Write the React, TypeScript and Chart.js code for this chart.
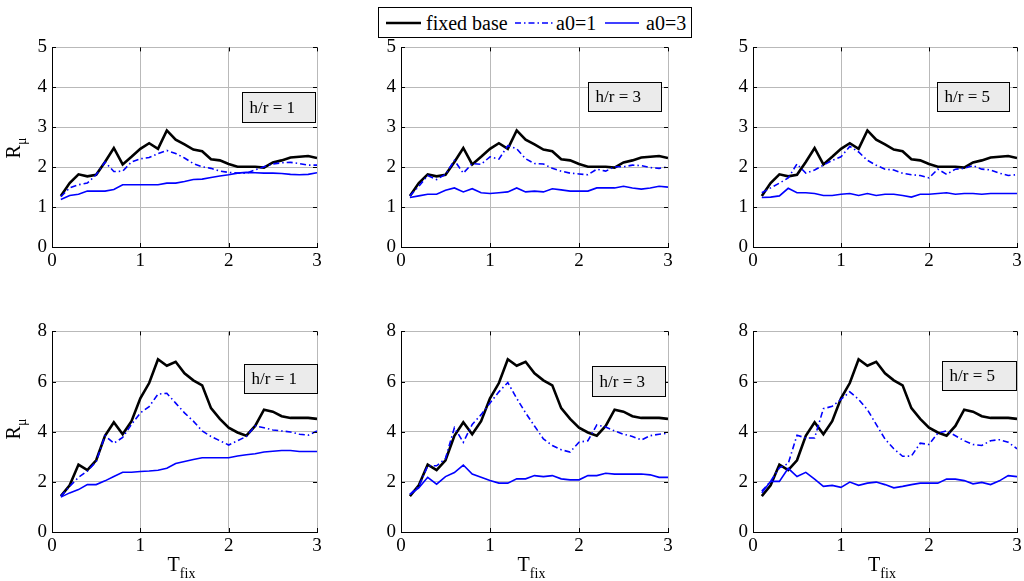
import React, { useEffect, useRef } from "react";
import { Chart, registerables } from "chart.js";

Chart.register(...registerables);

// ---------------- data ----------------
const periods = [0.1, 0.2, 0.3, 0.4, 0.5, 0.6, 0.7, 0.8, 0.9, 1.0, 1.1, 1.2, 1.3, 1.4, 1.5, 1.6, 1.7, 1.8, 1.9, 2.0, 2.1, 2.2, 2.3, 2.4, 2.5, 2.6, 2.7, 2.8, 2.9, 3.0];

const seriesNames = ["fixed base", "a0=1", "a0=3"];
const panelLabels = ["h/r = 1", "h/r = 3", "h/r = 5"];
const xTickValues = [0, 1, 2, 3];
const yTicksTop = [0, 1, 2, 3, 4, 5];
const yTicksBottom = [0, 2, 4, 6, 8];

const fixedBaseTop = [1.28, 1.6, 1.82, 1.77, 1.81, 2.13, 2.48, 2.07, 2.26, 2.46, 2.6, 2.46, 2.92, 2.69, 2.57, 2.44, 2.4, 2.2, 2.17, 2.08, 2.01, 2.01, 2.01, 1.99, 2.12, 2.17, 2.24, 2.26, 2.28, 2.23];
const fixedBaseBottom = [1.43, 1.86, 2.69, 2.47, 2.86, 3.84, 4.38, 3.9, 4.42, 5.33, 5.94, 6.89, 6.63, 6.79, 6.33, 6.05, 5.85, 4.94, 4.51, 4.16, 3.97, 3.84, 4.23, 4.88, 4.8, 4.62, 4.55, 4.55, 4.55, 4.51];

const a01TopH1 = [1.26, 1.48, 1.56, 1.6, 1.81, 2.13, 1.89, 1.9, 2.13, 2.21, 2.24, 2.34, 2.42, 2.34, 2.23, 2.09, 2.01, 1.97, 1.9, 1.87, 1.85, 1.85, 1.93, 2.01, 2.08, 2.11, 2.12, 2.09, 2.05, 2.05];
const a03TopH1 = [1.19, 1.29, 1.32, 1.4, 1.4, 1.4, 1.44, 1.56, 1.56, 1.56, 1.56, 1.56, 1.6, 1.6, 1.64, 1.69, 1.7, 1.74, 1.78, 1.81, 1.85, 1.87, 1.86, 1.85, 1.85, 1.84, 1.82, 1.81, 1.82, 1.86];
const a01TopH3 = [1.28, 1.52, 1.79, 1.69, 1.82, 2.17, 1.85, 2.09, 2.07, 2.26, 2.2, 2.54, 2.46, 2.21, 2.09, 2.08, 1.97, 1.9, 1.85, 1.83, 1.81, 1.95, 1.9, 2.01, 2.01, 2.05, 2.04, 1.99, 1.97, 2.01];
const a03TopH3 = [1.24, 1.28, 1.32, 1.32, 1.42, 1.48, 1.38, 1.46, 1.36, 1.34, 1.36, 1.38, 1.48, 1.38, 1.4, 1.38, 1.46, 1.43, 1.4, 1.4, 1.4, 1.48, 1.48, 1.48, 1.52, 1.48, 1.45, 1.48, 1.52, 1.5];
const a01TopH5 = [1.36, 1.48, 1.6, 1.73, 2.08, 1.85, 1.93, 2.05, 2.17, 2.26, 2.52, 2.38, 2.17, 2.05, 1.95, 1.93, 1.85, 1.81, 1.79, 1.73, 1.95, 1.82, 1.95, 1.97, 2.04, 1.95, 1.93, 1.85, 1.79, 1.81];
const a03TopH5 = [1.24, 1.25, 1.28, 1.47, 1.36, 1.36, 1.34, 1.29, 1.29, 1.32, 1.34, 1.29, 1.34, 1.29, 1.32, 1.32, 1.29, 1.25, 1.32, 1.32, 1.34, 1.36, 1.32, 1.34, 1.34, 1.32, 1.34, 1.34, 1.34, 1.34];

const a01BotH1 = [1.43, 1.82, 2.18, 2.43, 2.8, 3.84, 3.54, 3.77, 4.29, 4.75, 5.0, 5.5, 5.53, 5.14, 4.75, 4.42, 4.03, 3.81, 3.64, 3.47, 3.64, 3.81, 4.23, 4.16, 4.07, 4.03, 3.99, 3.9, 3.86, 4.03];
const a03BotH1 = [1.39, 1.56, 1.69, 1.89, 1.89, 2.04, 2.21, 2.38, 2.38, 2.41, 2.43, 2.46, 2.54, 2.73, 2.81, 2.89, 2.96, 2.96, 2.96, 2.96, 3.03, 3.08, 3.12, 3.19, 3.22, 3.25, 3.25, 3.21, 3.21, 3.21];
const a01BotH3 = [1.5, 1.82, 2.64, 2.64, 2.93, 4.16, 3.58, 4.29, 4.68, 5.14, 5.59, 5.96, 5.33, 4.75, 4.23, 3.71, 3.45, 3.28, 3.19, 3.58, 3.64, 4.27, 4.19, 4.03, 3.9, 3.81, 3.67, 3.84, 3.9, 3.94];
const a03BotH3 = [1.5, 1.76, 2.18, 1.91, 2.21, 2.37, 2.67, 2.31, 2.18, 2.05, 1.95, 1.95, 2.12, 2.12, 2.25, 2.21, 2.25, 2.12, 2.08, 2.08, 2.25, 2.25, 2.34, 2.31, 2.31, 2.31, 2.31, 2.28, 2.18, 2.18];
const a01BotH5 = [1.63, 2.02, 2.56, 2.73, 3.86, 3.75, 3.75, 4.92, 5.01, 5.29, 5.59, 5.29, 4.88, 4.29, 3.71, 3.32, 3.02, 3.03, 3.54, 3.49, 3.94, 4.03, 3.84, 3.64, 3.49, 3.45, 3.64, 3.68, 3.58, 3.32];
const a03BotH5 = [1.56, 2.02, 2.02, 2.54, 2.21, 2.38, 2.11, 1.82, 1.86, 1.78, 1.99, 1.86, 1.95, 1.99, 1.89, 1.76, 1.82, 1.89, 1.95, 1.95, 1.95, 2.11, 2.11, 2.05, 1.92, 1.98, 1.89, 2.04, 2.25, 2.21];

// ---------------- layout / style ----------------
const FONT = '"Liberation Serif", "Times New Roman", serif';
const GRID = "#b9b9b9";
const BLUE = "#0000ff";
const PAD_L = 45;
const PAD_T = 12;
const PAD_R = 14;
const PAD_B = 32;

const colLeft = [52, 401, 753];
const colWidth = [265, 267, 264];
const rowTop = [43, 327];
const rowHeight = [204, 205];

// annotation boxes, in data coordinates [x1, x2, yTop, yBottom]
const boxes = [
  [[2.15, 2.977, 3.873, 3.137], [2.1, 2.92, 4.14, 3.41], [2.09, 2.91, 4.14, 3.41]],
  [[2.17, 3.0, 6.71, 5.54], [2.15, 2.97, 6.63, 5.42], [2.15, 2.99, 6.83, 5.66]],
];

const panelSeries = [
  [
    [fixedBaseTop, a01TopH1, a03TopH1],
    [fixedBaseTop, a01TopH3, a03TopH3],
    [fixedBaseTop, a01TopH5, a03TopH5],
  ],
  [
    [fixedBaseBottom, a01BotH1, a03BotH1],
    [fixedBaseBottom, a01BotH3, a03BotH3],
    [fixedBaseBottom, a01BotH5, a03BotH5],
  ],
];

const inwardTicks = {
  id: "inwardTicks",
  afterDraw(chart: any) {
    const { ctx, chartArea: a, scales } = chart;
    const len = 4;
    ctx.save();
    ctx.strokeStyle = "#000";
    ctx.lineWidth = 1;
    ctx.beginPath();
    scales.x.ticks.forEach((t: any) => {
      const px = Math.round(scales.x.getPixelForValue(t.value)) + 0.5;
      ctx.moveTo(px, a.bottom);
      ctx.lineTo(px, a.bottom - len);
      ctx.moveTo(px, a.top);
      ctx.lineTo(px, a.top + len);
    });
    scales.y.ticks.forEach((t: any) => {
      const py = Math.round(scales.y.getPixelForValue(t.value)) + 0.5;
      ctx.moveTo(a.left, py);
      ctx.lineTo(a.left + len, py);
      ctx.moveTo(a.right, py);
      ctx.lineTo(a.right - len, py);
    });
    ctx.stroke();
    ctx.restore();
  },
};

const hrBox = {
  id: "hrBox",
  afterDraw(chart: any, _args: any, opts: any) {
    if (!opts || !opts.box) return;
    const { ctx, scales } = chart;
    const [x1, x2, yt, yb] = opts.box;
    const l = Math.round(scales.x.getPixelForValue(x1)) + 0.5;
    const r = Math.round(scales.x.getPixelForValue(x2)) + 0.5;
    const t = Math.round(scales.y.getPixelForValue(yt)) + 0.5;
    const b = Math.round(scales.y.getPixelForValue(yb)) + 0.5;
    ctx.save();
    ctx.fillStyle = "#ebebeb";
    ctx.fillRect(l, t, r - l, b - t);
    ctx.strokeStyle = "#000";
    ctx.lineWidth = 1;
    ctx.strokeRect(l, t, r - l, b - t);
    ctx.fillStyle = "#000";
    ctx.font = `17px ${FONT}`;
    ctx.textAlign = "left";
    ctx.textBaseline = "middle";
    ctx.fillText(opts.text, l + 7, (t + b) / 2 + 1);
    ctx.restore();
  },
};

type PanelProps = {
  left: number;
  top: number;
  width: number;
  height: number;
  yMax: number;
  series: number[][];
  text: string;
  box: number[];
};

function Panel(p: PanelProps) {
  const ref = useRef<HTMLCanvasElement>(null);
  const cw = p.width + PAD_L + PAD_R;
  const ch = p.height + PAD_T + PAD_B;
  useEffect(() => {
    const toPts = (vals: number[]) => periods.map((x, i) => ({ x, y: vals[i] }));
    const tickFont = { family: FONT, size: 19 };
    const chart = new Chart(ref.current as HTMLCanvasElement, {
      type: "line",
      data: {
        datasets: [
          {
            label: seriesNames[0],
            data: toPts(p.series[0]),
            borderColor: "#000",
            borderWidth: 2.6,
            pointRadius: 0,
            tension: 0,
            order: 3,
          },
          {
            label: seriesNames[1],
            data: toPts(p.series[1]),
            borderColor: BLUE,
            borderWidth: 1.6,
            borderDash: [6, 3, 1.5, 3],
            pointRadius: 0,
            tension: 0,
            order: 2,
          },
          {
            label: seriesNames[2],
            data: toPts(p.series[2]),
            borderColor: BLUE,
            borderWidth: 1.6,
            pointRadius: 0,
            tension: 0,
            order: 1,
          },
        ],
      },
      options: {
        animation: false,
        responsive: false,
        maintainAspectRatio: false,
        layout: { padding: { left: 0, top: PAD_T, right: PAD_R, bottom: 0 } },
        plugins: {
          legend: { display: false },
          tooltip: { enabled: false },
          hrBox: { box: p.box, text: p.text },
        } as any,
        scales: {
          x: {
            type: "linear",
            min: 0,
            max: 3,
            afterBuildTicks: (s: any) => {
              s.ticks = xTickValues.map((v) => ({ value: v }));
            },
            ticks: { font: tickFont, color: "#000", padding: 3, maxRotation: 0 },
            grid: { color: GRID, drawTicks: false, lineWidth: 1 },
            border: { color: "#000", width: 1 },
            afterFit: (s: any) => {
              s.height = PAD_B;
            },
          },
          y: {
            type: "linear",
            min: 0,
            max: p.yMax,
            afterBuildTicks: (s: any) => {
              s.ticks = (p.yMax === 5 ? yTicksTop : yTicksBottom).map((v) => ({ value: v }));
            },
            ticks: { font: tickFont, color: "#000", padding: 5 },
            grid: { color: GRID, drawTicks: false, lineWidth: 1 },
            border: { color: "#000", width: 1 },
            afterFit: (s: any) => {
              s.width = PAD_L;
            },
          },
        },
      } as any,
      plugins: [inwardTicks, hrBox],
    });
    return () => chart.destroy();
  }, []);
  return (
    <canvas
      ref={ref}
      width={cw}
      height={ch}
      style={{ position: "absolute", left: p.left - PAD_L, top: p.top - PAD_T, width: cw, height: ch }}
    />
  );
}

function YTitle({ cy }: { cy: number }) {
  return (
    <div
      style={{
        position: "absolute",
        left: 14,
        top: cy,
        transform: "translate(-50%, -50%) rotate(-90deg)",
        fontFamily: FONT,
        fontSize: 20,
        lineHeight: "20px",
        whiteSpace: "nowrap",
        color: "#000",
      }}
    >
      R<span style={{ fontSize: 14, position: "relative", top: 6 }}>μ</span>
    </div>
  );
}

function XTitle({ cx }: { cx: number }) {
  return (
    <div
      style={{
        position: "absolute",
        left: cx,
        top: 554,
        transform: "translateX(-50%)",
        fontFamily: FONT,
        fontSize: 20,
        lineHeight: "20px",
        whiteSpace: "nowrap",
        color: "#000",
      }}
    >
      T<span style={{ fontSize: 14, position: "relative", top: 7 }}>fix</span>
    </div>
  );
}

function Legend() {
  return (
    <svg
      width={316}
      height={33}
      style={{ position: "absolute", left: 377, top: 6, zIndex: 5 }}
    >
      <rect x={1.5} y={1.5} width={313} height={30} fill="#fff" stroke="#000" strokeWidth={1} />
      <line x1={9} y1={17} x2={44} y2={17} stroke="#000" strokeWidth={2.6} />
      <text x={49} y={24} fontFamily={FONT} fontSize={20} fill="#000">{seriesNames[0]}</text>
      <line x1={138} y1={17} x2={176} y2={17} stroke={BLUE} strokeWidth={1.6} strokeDasharray="6 3 1.5 3" />
      <text x={179} y={24} fontFamily={FONT} fontSize={20} fill="#000">{seriesNames[1]}</text>
      <line x1={228} y1={17} x2={262} y2={17} stroke={BLUE} strokeWidth={1.6} />
      <text x={269} y={24} fontFamily={FONT} fontSize={20} fill="#000">{seriesNames[2]}</text>
    </svg>
  );
}

export default function App() {
  const panels: PanelProps[] = [];
  for (let r = 0; r < 2; r++) {
    for (let c = 0; c < 3; c++) {
      panels.push({
        left: colLeft[c],
        top: rowTop[r],
        width: colWidth[c],
        height: rowHeight[r],
        yMax: r === 0 ? 5 : 8,
        series: panelSeries[r][c],
        text: panelLabels[c],
        box: boxes[r][c],
      });
    }
  }
  return (
    <div style={{ position: "absolute", left: 0, top: 0, width: 1024, height: 581, background: "#fff", overflow: "hidden" }}>
      {panels.map((p, i) => (
        <Panel key={i} {...p} />
      ))}
      <YTitle cy={148} />
      <YTitle cy={429} />
      {colLeft.map((l, i) => (
        <XTitle key={i} cx={l + colWidth[i] / 2 - 3} />
      ))}
      <Legend />
    </div>
  );
}
